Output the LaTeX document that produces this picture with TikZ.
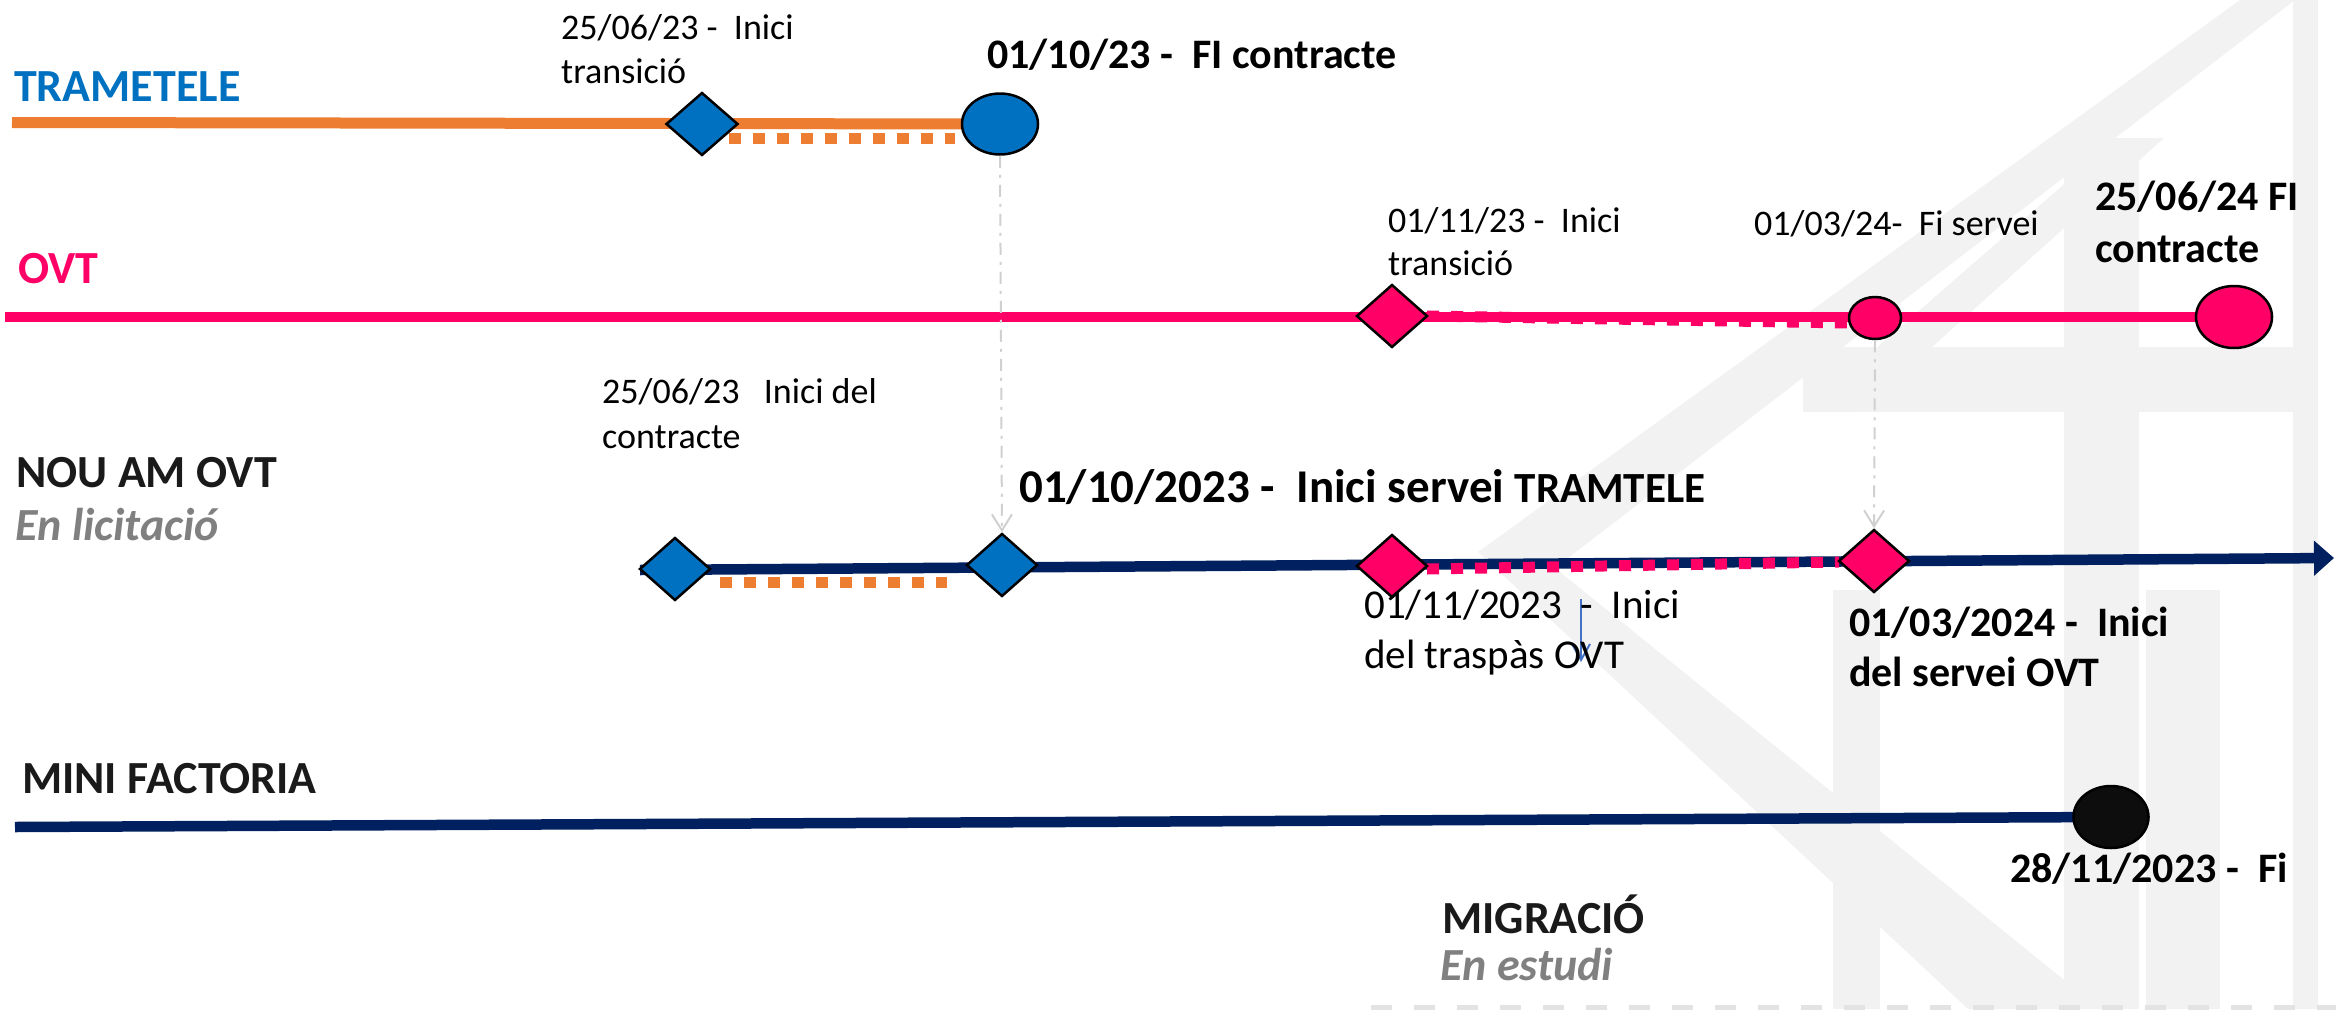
\documentclass[tikz,border=0pt]{standalone}
\usepackage{fontspec}
\setmainfont{Carlito}
\usetikzlibrary{shapes.geometric,arrows.meta,calc}
\definecolor{orangeL}{HTML}{ED7D31}
\definecolor{blueT}{HTML}{0070C0}
\definecolor{pinkO}{HTML}{FF0066}
\definecolor{navyL}{HTML}{002060}
\definecolor{subGray}{HTML}{808080}
\definecolor{connGray}{HTML}{D0D0D0}
\definecolor{wmGray}{HTML}{F2F2F2}
\definecolor{wmDash}{HTML}{E3E3E3}
\definecolor{arrBlue}{HTML}{4472C4}
\definecolor{txtBlack}{HTML}{1A1A1A}
\tikzset{
  lbl/.style={inner sep=0pt, anchor=base west},
  reg/.style={lbl, font=\fontsize{36}{44}\selectfont},
  regL/.style={lbl, font=\fontsize{41}{50}\selectfont},
  bld/.style={lbl, font=\fontsize{42}{51}\selectfont\bfseries},
  head/.style={lbl, font=\fontsize{46}{56}\selectfont\bfseries, text=txtBlack},
  subhead/.style={lbl, font=\fontsize{46}{56}\selectfont\bfseries\itshape, text=subGray},
  dia/.style={diamond, draw=black, line width=2.5pt, minimum width=72pt, minimum height=63pt, inner sep=0pt},
  circ/.style={ellipse, draw=black, line width=2.5pt, minimum width=76pt, minimum height=61pt, inner sep=0pt},
  tline/.style={line width=11pt},
  dotline/.style={line width=11pt, dash pattern=on 12pt off 12pt},
  conn/.style={draw=connGray, line width=2pt, dash pattern=on 12pt off 7pt on 3pt off 7pt,
    -{Straight Barb[length=16pt,width=20pt,line width=2pt]}},
  wm/.style={fill=wmGray},
}
\begin{document}
\begin{tikzpicture}[x=1pt,y=-1pt]
\useasboundingbox (0,0) rectangle (2336,1009);
% watermark (faint logo)
\fill[wm] (2064,138) rectangle (2139,1009);
\fill[wm] (2293,0) rectangle (2318,1009);
\fill[wm] (1803,347) rectangle (2293,412);
\fill[wm] (1833,590) rectangle (1880,1009);
\fill[wm] (2146,590) rectangle (2220,1009);
\fill[wm] (2117,138) -- (2164,138) -- (1860,412) -- (1803,412) -- cycle;
\fill[wm] (2240,0) -- (2295,0) -- (1555,568) -- (2100,1009) -- (1968,1009) -- (1478,552) -- cycle;
\draw[wmDash, line width=6pt, dash pattern=on 21pt off 22pt] (1371,1008) -- (2336,1008);

% coordinates of milestones
\coordinate (D1) at (702,124);
\coordinate (C1) at (1000,124);
\coordinate (OD1) at (1392,316);
\coordinate (OC1) at (1875,318);
\coordinate (OC2) at (2234,317);
\coordinate (DB1) at (675,569);
\coordinate (DB2) at (1002,565);
\coordinate (DP1) at (1392,566);
\coordinate (DP2) at (1874,561);
\coordinate (CB) at (2111,817);
\coordinate (tstart) at (12,122.5);
\coordinate (ostart) at (5,317);
\coordinate (nstart) at (640,570);
\coordinate (nend) at (2334,558);
\coordinate (mstart) at (15,827);
\coordinate (bA) at (1581,599);
\coordinate (bB) at (1581,662);

% lines
\draw[tline, orangeL] (tstart) -- (C1);
\draw[dotline, orangeL] ([xshift=27pt,yshift=-14.5pt]D1) -- ([xshift=-45pt,yshift=-14.5pt]C1);
\draw[dotline, pinkO] ([xshift=35pt,yshift=0pt]OD1) -- ([xshift=-26pt,yshift=-5pt]OC1);
\draw[tline, pinkO, line width=10pt] (ostart) -- (OC2);
\draw[tline, navyL, line width=10.5pt, -{Triangle[length=20pt,width=34pt]}] (nstart) -- (nend);
\draw[dotline, orangeL] ([xshift=45pt,yshift=-13pt]DB1) -- ([xshift=-55pt,yshift=-17pt]DB2);
\draw[dotline, pinkO] ([xshift=35pt,yshift=-3pt]DP1) -- ([xshift=-35pt,yshift=-1pt]DP2);
\draw[tline, navyL, line width=10.5pt] (mstart) -- (CB);

% milestone nodes
\node[dia, fill=blueT] (d1) at (D1) {};
\node[circ, fill=blueT] (c1) at (C1) {};
\node[dia, fill=pinkO, minimum width=71pt] (od1) at (OD1) {};
\node[circ, fill=pinkO, minimum width=52pt, minimum height=42pt] (oc1) at (OC1) {};
\node[circ, fill=pinkO, minimum height=62pt] (oc2) at (OC2) {};
\node[dia, fill=blueT, minimum width=71pt] (db1) at (DB1) {};
\node[dia, fill=blueT, minimum width=71pt] (db2) at (DB2) {};
\node[dia, fill=pinkO, minimum width=71pt] (dp1) at (DP1) {};
\node[dia, fill=pinkO, minimum width=71pt] (dp2) at (DP2) {};
\node[circ, fill=black!95, minimum width=75pt, minimum height=62pt] (cb) at (CB) {};

% connectors
\draw[conn] (c1.south) -- (db2.north);
\draw[conn] (oc1.south) -- (dp2.north);
\draw[arrBlue, line width=2pt, -{Straight Barb[length=16pt,width=18pt,line width=2pt]}] (bA) -- (bB);

% row labels
\node[head, text=blueT] (lt) at (14,101) {TRAMETELE};
\node[head, text=pinkO] (lo) at (18,283) {OVT};
\node[head] (ln) at (16,487) {NOU AM OVT};
\node[subhead] (lns) at (15,540) {En licitació};
\node[head] (lm) at (22,793) {MINI FACTORIA};
\node[head] (lg) at (1442,933) {MIGRACIÓ};
\node[subhead] (lgs) at (1440,980) {En estudi};

% milestone labels
\node[reg] (t1a) at (561,39) {25/06/23 -\ \ Inici};
\node[reg] (t1b) at (561,83) {transició};
\node[bld] (t2) at (987,68) {01/10/23 -\ \ FI contracte};
\node[reg] (o1a) at (1388,232) {01/11/23 -\ \ Inici};
\node[reg] (o1b) at (1388,275) {transició};
\node[reg] (o2) at (1754,235) {01/03/24-\ \ Fi servei};
\node[bld] (o3a) at (2095,210) {25/06/24 FI};
\node[bld] (o3b) at (2095,262) {contracte};
\node[reg] (n1a) at (602,403) {25/06/23\ \ \ Inici del};
\node[reg] (n1b) at (602,448) {contracte};
\node[lbl, font=\bfseries] (n2) at (1019,502) {{\fontsize{47}{57}\selectfont 01/10/2023 -\ \ Inici servei }{\fontsize{43}{52}\selectfont TRAMTELE}};
\node[regL] (n3a) at (1364,618) {01/11/2023\ \ -\ \ Inici};
\node[regL] (n3b) at (1364,668) {del traspàs OVT};
\node[bld] (n4a) at (1849,636) {01/03/2024 -\ \ Inici};
\node[bld] (n4b) at (1849,686) {del servei OVT};
\node[bld] (m1) at (2010,882) {28/11/2023 -\ \ Fi};
\end{tikzpicture}
\end{document}
